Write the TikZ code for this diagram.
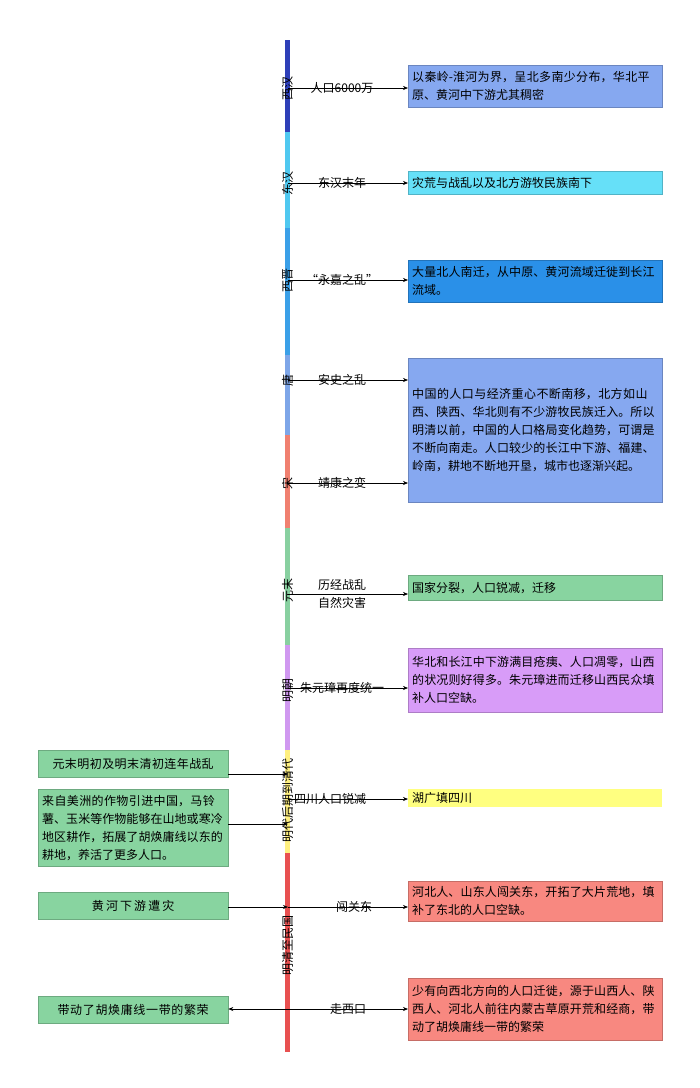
\documentclass[tikz,border=0pt]{standalone}
\usepackage{fontspec}
\usetikzlibrary{arrows.meta}
\setmainfont{Noto Sans CJK SC}
\XeTeXlinebreaklocale "zh"
\XeTeXlinebreakskip=0pt plus 1pt
\begin{document}
\begin{tikzpicture}[x=1pt,y=-1pt,
 box/.style={draw=#1!80!black,line width=0.3pt,fill=#1,text width=246pt,inner xsep=4pt,inner ysep=2pt,align=left,font=\fontsize{12}{18}\selectfont,anchor=north west},
 lbox/.style={draw=#1!80!black,line width=0.3pt,fill=#1,text width=182pt,inner xsep=4pt,inner ysep=2pt,align=left,font=\fontsize{12}{18}\selectfont,anchor=north west},
 per/.style={rotate=90,font=\fontsize{12}{12}\selectfont,inner sep=0pt},
 lab/.style={font=\fontsize{12}{18}\selectfont,inner sep=1pt},
 arr/.style={-{Stealth[length=5pt,width=4pt]},line width=0.6pt}]
\useasboundingbox (0,0) rectangle (700,1088);
\definecolor{c1}{HTML}{2E3FB8}\definecolor{c2}{HTML}{4FC8F0}\definecolor{c3}{HTML}{3BA0E8}
\definecolor{c4}{HTML}{7EA6E8}\definecolor{c5}{HTML}{F08070}\definecolor{c6}{HTML}{88D0A0}
\definecolor{c7}{HTML}{D098F0}\definecolor{c8}{HTML}{FFF080}\definecolor{c9}{HTML}{E85050}
\definecolor{b1}{HTML}{86A8F0}\definecolor{b2}{HTML}{66E0F8}\definecolor{b3}{HTML}{2A90E8}
\definecolor{b5}{HTML}{88D4A0}\definecolor{b6}{HTML}{D89CF8}\definecolor{b7}{HTML}{FFFF80}\definecolor{b8}{HTML}{F88880}
% bar
\fill[c1] (285,40) rectangle (290,132);
\fill[c2] (285,132) rectangle (290,228);
\fill[c3] (285,228) rectangle (290,355);
\fill[c4] (285,355) rectangle (290,435);
\fill[c5] (285,435) rectangle (290,528);
\fill[c6] (285,528) rectangle (290,645);
\fill[c7] (285,645) rectangle (290,750);
\fill[c8] (285,750) rectangle (290,853);
\fill[c9] (285,853) rectangle (290,1052);
% period labels
\node[per] (p1) at (287.5,88) {西汉};
\node[per] (p2) at (287.5,183) {东汉};
\node[per] (p3) at (287.5,280) {西晋};
\node[per] (p4) at (287.5,380) {唐};
\node[per] (p5) at (287.5,483) {宋};
\node[per] (p6) at (287.5,590) {元末};
\node[per] (p7) at (287.5,690) {明朝};
\node[per] (p8) at (287.5,800) {明代后期到清代};
\node[per] (p9) at (287.5,945) {明清至民国};
% junction coordinates on the bar
\coordinate (j1) at (288,88);\coordinate (j2) at (288,183);\coordinate (j3) at (288,280);
\coordinate (j4) at (288,380);\coordinate (j5) at (288,483);\coordinate (j6) at (288,594);
\coordinate (j7) at (288,688);\coordinate (j8) at (288,799);\coordinate (j9) at (288,907);
\coordinate (j10) at (288,1009);\coordinate (jl1) at (288,774);\coordinate (jl2) at (288,824);
% right boxes
\node[box=b1,minimum height=42pt] (r1) at (408,65) {以秦岭-淮河为界，呈北多南少分布，华北平原、黄河中下游尤其稠密};
\node[box=b2,minimum height=23pt] (r2) at (408,171) {灾荒与战乱以及北方游牧民族南下};
\node[box=b3,minimum height=42pt] (r3) at (408,260) {大量北人南迁，从中原、黄河流域迁徙到长江流域。};
\node[box=b1,minimum height=144pt] (r4) at (408,358) {中国的人口与经济重心不断南移，北方如山西、陕西、华北则有不少游牧民族迁入。所以明清以前，中国的人口格局变化趋势，可谓是不断向南走。人口较少的长江中下游、福建、岭南，耕地不断地开垦，城市也逐渐兴起。};
\node[box=b5,minimum height=25pt] (r5) at (408,575) {国家分裂，人口锐减，迁移};
\node[box=b6,minimum height=64pt] (r6) at (408,648) {华北和长江中下游满目疮痍、人口凋零，山西的状况则好得多。朱元璋进而迁移山西民众填补人口空缺。};
\node[box=b7,draw=none,minimum height=18pt,inner ysep=0pt] (r7) at (408,789) {湖广填四川};
\node[box=b8,minimum height=40pt] (r8) at (408,881) {河北人、山东人闯关东，开拓了大片荒地，填补了东北的人口空缺。};
\node[box=b8,minimum height=62pt] (r9) at (408,978) {少有向西北方向的人口迁徙，源于山西人、陕西人、河北人前往内蒙古草原开荒和经商，带动了胡焕庸线一带的繁荣};
% left boxes
\node[lbox=b5,minimum height=27pt,align=center] (l1) at (38,750) {元末明初及明末清初连年战乱};
\node[lbox=b5,minimum height=77pt] (l2) at (38,789) {来自美洲的作物引进中国，马铃薯、玉米等作物能够在山地或寒冷地区耕作，拓展了胡焕庸线以东的耕地，养活了更多人口。};
\node[lbox=b5,minimum height=27pt,align=center] (l3) at (38,892) {黄河下游遭灾};
\node[lbox=b5,minimum height=27pt,align=center] (l4) at (38,996) {带动了胡焕庸线一带的繁荣};
% right connectors
\draw[arr] (j1) -- (j1 -| r1.west) node[lab,pos=0.45] {人口6000万};
\draw[arr] (j2) -- (j2 -| r2.west) node[lab,pos=0.45] {东汉末年};
\draw[arr] (j3) -- (j3 -| r3.west) node[lab,pos=0.45] {“永嘉之乱”};
\draw[arr] (j4) -- (j4 -| r4.west) node[lab,pos=0.45] {安史之乱};
\draw[arr] (j5) -- (j5 -| r4.west) node[lab,pos=0.45] {靖康之变};
\draw[arr] (j6) -- (j6 -| r5.west) node[lab,pos=0.45,align=center] {历经战乱\\自然灾害};
\draw[arr] (j7) -- (j7 -| r6.west) node[lab,pos=0.45] {朱元璋再度统一};
\draw[arr] (j8) -- (j8 -| r7.west) node[lab,pos=0.35] {四川人口锐减};
\draw[arr] (j9) -- (j9 -| r8.west) node[lab,pos=0.55] {闯关东};
\draw[arr] (j10) -- (j10 -| r9.west) node[lab,pos=0.5] {走西口};
\draw[arr] (j10) -- (j10 -| l4.east);
% left connectors
\draw[arr] (jl1 -| l1.east) -- (jl1);
\draw[arr] (jl2 -| l2.east) -- (jl2);
\draw[arr] (j9 -| l3.east) -- (j9);
\end{tikzpicture}
\end{document}
